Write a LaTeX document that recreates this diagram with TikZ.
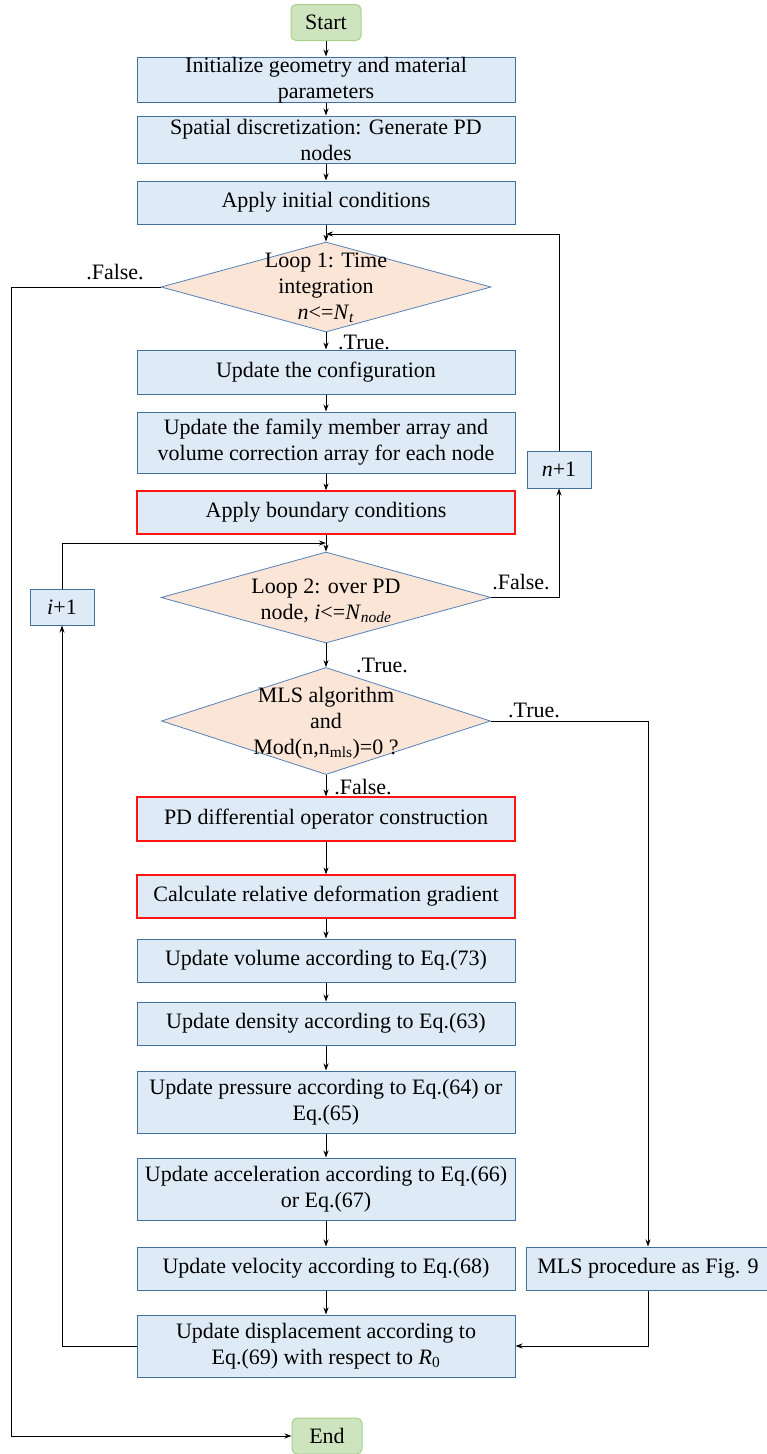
\documentclass[tikz,border=0pt]{standalone}
\usepackage{fontspec}
\setmainfont{LiberationSerif}[Extension=.ttf,
  UprightFont=*-Regular, ItalicFont=*-Italic,
  BoldFont=*-Bold, BoldItalicFont=*-BoldItalic]
\usetikzlibrary{shapes.geometric,arrows.meta}

\definecolor{boxfill}{RGB}{222,235,247}
\definecolor{boxedge}{RGB}{65,113,156}
\definecolor{rededge}{RGB}{255,20,20}
\definecolor{decfill}{RGB}{251,229,214}
\definecolor{decedge}{RGB}{84,130,182}
\definecolor{termfill}{RGB}{205,228,190}
\definecolor{termedge}{RGB}{169,209,142}

\begin{document}
\begin{tikzpicture}[x=1pt,y=-1pt,
  font=\fontsize{22}{26}\selectfont,
  >={Stealth[length=7pt,width=5pt]},
  flow/.style={draw=black, line width=0.9pt, ->},
  proc/.style={draw=boxedge, fill=boxfill, line width=1pt,
    minimum width=378pt, inner xsep=2pt, inner ysep=0pt, align=center},
  redproc/.style={proc, draw=rededge, line width=1.2pt},
  smallbox/.style={draw=boxedge, fill=boxfill, line width=1pt,
    minimum width=64pt, minimum height=37pt, inner sep=0pt},
  terminal/.style={draw=termedge, fill=termfill, line width=1pt,
    rounded corners=5pt, minimum width=70pt, minimum height=36pt, inner sep=0pt},
  decision/.style={diamond, draw=decedge, fill=decfill, line width=0.8pt, inner sep=0pt},
  dectext/.style={inner sep=0pt, align=center},
  tag/.style={inner sep=0pt}
]
\fill[white] (0,0) rectangle (766,1454);
\useasboundingbox (0,0) rectangle (766,1454);

% terminals
\node[terminal] (start) at (326,22.5) {Start};
\node[terminal] (end) at (327,1436) {End};

% main column of process steps
\node[proc, minimum height=44pt] (init) at (326,80) {Initialize geometry and material\\parameters};
\node[proc, minimum height=47pt] (spatial) at (326,139.5) {Spatial discretization: Generate PD\\nodes};
\node[proc, minimum height=43pt] (initc) at (326,202.5) {Apply initial conditions};

\node[decision, minimum width=330pt, minimum height=90pt] (loop1) at (326,287) {};
\node[dectext] (loop1t) at (326,288) {Loop 1: Time\\integration\\\textit{n}<=\textit{N}\textsubscript{\textit{t}}};

\node[proc, minimum height=44pt] (config) at (326,372) {Update the configuration};
\node[proc, minimum height=61pt] (family) at (326,442.5) {Update the family member array and\\volume correction array for each node};
\node[redproc, minimum height=43pt] (bound) at (326,512.5) {Apply boundary conditions};

\node[decision, minimum width=330pt, minimum height=91pt] (loop2) at (326,597.5) {};
\node[dectext] (loop2t) at (326,601) {Loop 2: over PD\\node, \textit{i}<=\textit{N}\textsubscript{\textit{node}}};

\node[decision, minimum width=329pt, minimum height=107pt] (mls) at (326,721) {};
\node[dectext] (mlst) at (326,723) {MLS algorithm\\and\\Mod(n,n\textsubscript{mls})=0 ?};

\node[redproc, minimum height=44pt] (pd) at (326,819) {PD differential operator construction};
\node[redproc, minimum height=43pt] (calc) at (326,896.5) {Calculate relative deformation gradient};
\node[proc, minimum height=43pt] (volume) at (326,960.5) {Update volume according to Eq.(73)};
\node[proc, minimum height=43pt] (density) at (326,1023.5) {Update density according to Eq.(63)};
\node[proc, minimum height=62pt] (pressure) at (326,1102) {Update pressure according to Eq.(64) or\\Eq.(65)};
\node[proc, minimum height=62pt] (accel) at (326,1189) {Update acceleration according to Eq.(66)\\or Eq.(67)};
\node[proc, minimum height=43pt] (velocity) at (326,1268.5) {Update velocity according to Eq.(68)};
\node[proc, minimum height=62pt] (disp) at (326,1346) {Update displacement according to\\Eq.(69) with respect to \textit{R}\textsubscript{0}};

% side boxes
\node[smallbox] (nplus) at (559,469.5) {\textit{n}+1};
\node[smallbox, minimum height=36pt] (iplus) at (62,607) {\textit{i}+1};
\node[proc, minimum width=244pt, minimum height=43pt] (mlsproc) at (648,1268.5) {MLS procedure as Fig. 9};

% branch labels
\node[tag] (f1) at (115,272) {.False.};
\node[tag] (t1) at (364,342) {.True.};
\node[tag] (f2) at (521,582) {.False.};
\node[tag] (t2) at (382,665) {.True.};
\node[tag] (t3) at (534,710) {.True.};
\node[tag] (f3) at (363,787) {.False.};

% junctions on the main column
\coordinate (j1) at (326,234);
\coordinate (j2) at (326,543);
\coordinate (lft) at (11,287);

% connectors
\draw[flow] (start) -- (init);
\draw[flow] (init) -- (spatial);
\draw[flow] (spatial) -- (initc);
\draw[flow] (initc) -- (loop1);
\draw[flow] (nplus.north) |- (j1);
\draw[flow] (loop1) -- (config);
\draw[flow] (config) -- (family);
\draw[flow] (family) -- (bound);
\draw[flow] (bound) -- (loop2);
\draw[flow] (iplus.north) |- (j2);
\draw[flow] (loop2.east) -| (nplus.south);
\draw[flow] (loop2) -- (mls);
\draw[flow] (mls.east) -| (mlsproc.north);
\draw[flow] (mls) -- (pd);
\draw[flow] (pd) -- (calc);
\draw[flow] (calc) -- (volume);
\draw[flow] (volume) -- (density);
\draw[flow] (density) -- (pressure);
\draw[flow] (pressure) -- (accel);
\draw[flow] (accel) -- (velocity);
\draw[flow] (velocity) -- (disp);
\draw[flow] (mlsproc.south) |- (disp.east);
\draw[flow] (disp.west) -| (iplus.south);
\draw[flow] (loop1.west) -- (lft) |- (end.west);
\end{tikzpicture}
\end{document}
